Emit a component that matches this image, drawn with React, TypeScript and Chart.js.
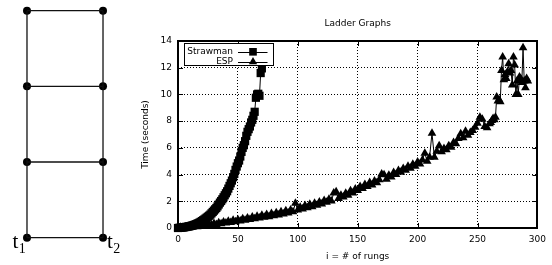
import React, { useEffect, useRef } from 'react';
import { Chart, registerables } from 'chart.js';

Chart.register(...registerables);

// ---------- data ----------
const chartTitle = 'Ladder Graphs';
const xAxisTitle = 'i = # of rungs';
const yAxisTitle = 'Time (seconds)';
const xTicks = [0, 50, 100, 150, 200, 250, 300];
const yTicks = [0, 2, 4, 6, 8, 10, 12, 14];

const strawmanLabel = 'Strawman';
const strawmanRungs = [
  0, 1, 2, 3, 4, 5, 6, 7, 8, 9, 10, 11, 12, 13, 14, 15, 16, 17, 18, 19, 20,
  21, 22, 23, 24, 25, 26, 27, 28, 29, 30, 31, 32, 33, 34, 35, 36, 37, 38, 39, 40,
  41, 42, 43, 44, 45, 46, 47, 48, 49, 50, 51, 52, 53, 54, 55, 56, 57, 58, 59, 60,
  61, 62, 63, 64, 65, 66, 67, 68, 69, 70,
];
const strawmanTimes = [
  0.0, 0.01, 0.02, 0.03, 0.04, 0.05, 0.07, 0.08, 0.1, 0.12, 0.14,
  0.16, 0.19, 0.22, 0.25, 0.28, 0.32, 0.36, 0.41, 0.46, 0.52,
  0.58, 0.64, 0.71, 0.78, 0.85, 0.92, 1.0, 1.1, 1.2, 1.3,
  1.4, 1.5, 1.62, 1.76, 1.9, 2.02, 2.15, 2.3, 2.45, 2.6,
  2.75, 2.95, 3.15, 3.35, 3.55, 3.8, 4.05, 4.35, 4.6, 4.85,
  5.05, 5.35, 5.7, 6.0, 6.2, 6.5, 6.9, 7.2, 7.4, 7.6,
  7.9, 8.1, 8.4, 8.7, 9.75, 10.0, 10.05, 9.9, 11.6, 11.95,
];

const espLabel = 'ESP';
const espRungs = [
  0, 2, 4, 6, 8, 10, 12, 14, 16, 18, 20, 22, 24, 26, 28, 30, 32, 34, 36, 38, 40,
  42, 44, 46, 48, 50, 52, 54, 56, 58, 60, 62, 64, 66, 68, 70, 72, 74, 76, 78, 80,
  82, 84, 86, 88, 90, 92, 94, 96, 98, 100, 102, 104, 106, 108, 110, 112, 114, 116, 118, 120,
  122, 124, 126, 128, 130, 132, 134, 136, 138, 140, 142, 144, 146, 148, 150, 152, 154, 156, 158, 160,
  162, 164, 166, 168, 170, 172, 174, 176, 178, 180, 182, 184, 186, 188, 190, 192, 194, 196, 198, 200,
  202, 204, 206, 208, 210, 212, 214, 216, 218, 220, 222, 224, 226, 228, 230, 232, 234, 236, 238, 240,
  242, 244, 246, 248, 250, 252, 254, 256, 258, 260,
  261, 262, 263, 264, 265, 266, 267, 268, 269, 270, 271, 272, 273, 274, 275, 276,
  277, 278, 279, 280, 281, 282, 283, 284, 285, 286, 287, 288, 289, 290, 291, 292,
];
const espTimes = [
  0.02, 0.05, 0.03, 0.08, 0.05, 0.1, 0.07, 0.14, 0.1, 0.18, 0.13, 0.22, 0.17, 0.28, 0.22, 0.33, 0.27, 0.4, 0.32, 0.45, 0.38,
  0.5, 0.42, 0.58, 0.47, 0.62, 0.52, 0.7, 0.58, 0.75, 0.64, 0.82, 0.7, 0.88, 0.74, 0.95, 0.8, 1.02, 0.85, 1.08, 0.92,
  1.15, 0.98, 1.22, 1.05, 1.3, 1.12, 1.35, 1.22, 1.85, 1.35, 1.55, 1.42, 1.68, 1.52, 1.78, 1.6, 1.85, 1.7, 1.95, 1.8,
  2.05, 1.92, 2.15, 2.02, 2.62, 2.72, 2.2, 2.45, 2.32, 2.6, 2.45, 2.78, 2.62, 2.92, 2.8, 3.1, 2.95, 3.25, 3.1, 3.4,
  3.22, 3.52, 3.38, 3.62, 4.05, 3.98, 3.65, 3.95, 3.82, 4.15, 4.0, 4.3, 4.18, 4.45, 4.32, 4.62, 4.48, 4.78, 4.62, 4.95,
  4.8, 5.1, 5.6, 5.0, 5.3, 7.1, 5.3, 5.75, 6.15, 5.7, 5.95, 5.85, 6.15, 6.05, 6.4, 6.3, 6.7, 7.05, 6.75, 7.25,
  6.95, 7.15, 7.3, 7.55, 7.85, 8.3, 8.15, 7.6, 7.5, 7.8,
  7.9, 8.05, 8.2, 8.1, 8.3, 9.8, 9.5, 9.6, 9.45, 11.8, 12.8, 11.1, 11.5, 11.2, 11.7, 12.3,
  11.6, 11.8, 10.7, 12.8, 12.2, 10.0, 11.0, 10.0, 11.3, 11.2, 10.9, 13.5, 11.0, 10.5, 11.2, 11.0,
];

// ladder diagram: two rails (columns) and four rungs (levels)
const ladderColumns = [0, 1];
const ladderLevels = [0, 1, 2, 3];
const terminalLabels = [
  { col: 0, level: 0, base: 't', sub: '1' },
  { col: 1, level: 0, base: 't', sub: '2' },
];

// ---------- styles ----------
const FONT = 'DejaVu Sans';
const INK = '#000';

export default function App() {
  const ladderRef = useRef<HTMLCanvasElement>(null);
  const plotRef = useRef<HTMLCanvasElement>(null);

  useEffect(() => {
    const charts: Chart[] = [];

    // ----- ladder diagram -----
    if (ladderRef.current) {
      const top = ladderLevels[ladderLevels.length - 1];
      const segs: { x: number; y: number }[][] = [];
      ladderColumns.forEach((c) => segs.push([{ x: c, y: ladderLevels[0] }, { x: c, y: top }]));
      ladderLevels.forEach((l) => segs.push([{ x: ladderColumns[0], y: l }, { x: ladderColumns[1], y: l }]));
      const nodes: { x: number; y: number }[] = [];
      ladderColumns.forEach((c) => ladderLevels.forEach((l) => nodes.push({ x: c, y: l })));

      const labelPlugin = {
        id: 'terminalLabels',
        afterDatasetsDraw(chart: any) {
          const { ctx, scales } = chart;
          ctx.save();
          ctx.fillStyle = INK;
          ctx.textBaseline = 'alphabetic';
          terminalLabels.forEach((t) => {
            const px = scales.x.getPixelForValue(t.col);
            const py = scales.y.getPixelForValue(t.level);
            const left = t.col === 0 ? px - 14.5 : px + 4;
            ctx.font = '21px "Liberation Serif"';
            ctx.textAlign = 'left';
            ctx.fillText(t.base, left, py + 10.5);
            const w = ctx.measureText(t.base).width;
            ctx.font = '14px "Liberation Serif"';
            ctx.fillText(t.sub, left + w + 0.5, py + 15.5);
          });
          ctx.restore();
        },
      };

      const datasets: any[] = segs.map((s) => ({
        data: s,
        showLine: true,
        borderColor: '#111',
        borderWidth: 1.3,
        pointRadius: 0,
        clip: false,
      }));
      datasets.push({
        data: nodes,
        showLine: false,
        pointRadius: 4,
        pointBackgroundColor: INK,
        pointBorderWidth: 0,
        clip: false,
      });

      charts.push(
        new Chart(ladderRef.current, {
          type: 'scatter',
          data: { datasets },
          options: {
            responsive: false,
            animation: false,
            devicePixelRatio: 1,
            events: [],
            layout: { padding: 0, autoPadding: false },
            plugins: { legend: { display: false }, tooltip: { enabled: false }, title: { display: false } },
            scales: {
              x: { type: 'linear', display: false, min: -0.355, max: 1.355 },
              y: { type: 'linear', display: false, min: -0.361, max: 3.141 },
            },
          },
          plugins: [labelPlugin],
        } as any)
      );
    }

    // ----- timing plot -----
    if (plotRef.current) {
      const strawmanData = strawmanRungs.map((x, i) => ({ x, y: strawmanTimes[i] }));
      const espData = espRungs.map((x, i) => ({ x, y: espTimes[i] }));

      const framePlugin = {
        id: 'gnuplotFrame',
        afterDatasetsDraw(chart: any) {
          const { ctx, chartArea, scales } = chart;
          const { left: L, right: R, top: T, bottom: B } = chartArea;
          ctx.save();
          // inward tick marks (mirrored)
          ctx.strokeStyle = INK;
          ctx.lineWidth = 1;
          ctx.setLineDash([]);
          ctx.beginPath();
          xTicks.forEach((v) => {
            const x = Math.round(scales.x.getPixelForValue(v)) + 0.5;
            ctx.moveTo(x, B); ctx.lineTo(x, B - 5);
            ctx.moveTo(x, T); ctx.lineTo(x, T + 5);
          });
          yTicks.forEach((v) => {
            const y = Math.round(scales.y.getPixelForValue(v)) + 0.5;
            ctx.moveTo(L, y); ctx.lineTo(L + 5, y);
            ctx.moveTo(R, y); ctx.lineTo(R - 5, y);
          });
          ctx.stroke();
          // frame
          ctx.lineWidth = 2;
          ctx.strokeRect(Math.round(L), Math.round(T), Math.round(R - L), Math.round(B - T));

          // key box
          const bx = Math.round(L) + 6.5;
          const by = Math.round(T) + 2.5;
          const bw = 89;
          const bh = 22;
          ctx.fillStyle = '#fff';
          ctx.fillRect(bx, by, bw, bh);
          ctx.lineWidth = 1;
          ctx.strokeStyle = INK;
          ctx.strokeRect(bx, by, bw, bh);
          const entries = [
            { label: strawmanLabel, style: 'rect', r: 5.4, dy: 8.3 },
            { label: espLabel, style: 'triangle', r: 4.8, dy: 18.3 },
          ];
          ctx.font = `9px "${FONT}"`;
          ctx.textAlign = 'right';
          ctx.textBaseline = 'middle';
          entries.forEach((e) => {
            const y = by + e.dy;
            ctx.fillStyle = INK;
            ctx.fillText(e.label, L + 55, y);
            ctx.beginPath();
            ctx.moveTo(L + 60, Math.round(y) + 0.5);
            ctx.lineTo(L + 89.5, Math.round(y) + 0.5);
            ctx.stroke();
            drawMarker(ctx, e.style, e.r, L + 75, y);
          });
          ctx.restore();
        },
      };

      const common = {
        showLine: true,
        borderColor: INK,
        borderWidth: 1,
        pointBackgroundColor: INK,
        pointBorderColor: INK,
        pointBorderWidth: 0,
        clip: false,
      };

      charts.push(
        new Chart(plotRef.current, {
          type: 'scatter',
          data: {
            datasets: [
              { ...common, label: strawmanLabel, data: strawmanData, pointStyle: 'rect', pointRadius: 5.8 },
              { ...common, label: espLabel, data: espData, pointStyle: 'triangle', pointRadius: 5 },
            ],
          },
          options: {
            responsive: false,
            animation: false,
            devicePixelRatio: 1,
            events: [],
            layout: { padding: { left: 0, right: 12, top: 0, bottom: 0 }, autoPadding: false },
            plugins: {
              legend: { display: false },
              tooltip: { enabled: false },
              title: {
                display: true,
                text: chartTitle,
                fullSize: false,
                color: INK,
                font: { family: FONT, size: 9, weight: 'normal' },
                padding: { top: 18.6, bottom: 11.6 },
              },
            },
            scales: {
              x: {
                type: 'linear',
                min: xTicks[0],
                max: xTicks[xTicks.length - 1],
                afterBuildTicks: (s: any) => { s.ticks = xTicks.map((value) => ({ value })); },
                afterFit: (s: any) => { s.height = 37; },
                ticks: { color: INK, font: { family: FONT, size: 9 }, padding: 6, maxRotation: 0, autoSkip: false },
                grid: { color: INK, lineWidth: 1, drawTicks: false },
                border: { display: false, dash: [1, 2] },
                title: {
                  display: true,
                  text: xAxisTitle,
                  color: INK,
                  font: { family: FONT, size: 9 },
                  padding: { top: 0, bottom: 3 },
                },
              },
              y: {
                type: 'linear',
                min: yTicks[0],
                max: yTicks[yTicks.length - 1],
                afterBuildTicks: (s: any) => { s.ticks = yTicks.map((value) => ({ value })); },
                afterFit: (s: any) => { s.width = 48; },
                ticks: { color: INK, font: { family: FONT, size: 9 }, padding: 6 },
                grid: { color: INK, lineWidth: 1, drawTicks: false },
                border: { display: false, dash: [1, 2] },
                title: {
                  display: true,
                  text: yAxisTitle,
                  color: INK,
                  font: { family: FONT, size: 9 },
                  padding: { top: 10, bottom: 0 },
                },
              },
            },
          },
          plugins: [framePlugin],
        } as any)
      );
    }

    return () => charts.forEach((c) => c.destroy());
  }, []);

  return (
    <div style={{ position: 'fixed', left: 0, top: 0, width: 552, height: 265, background: '#fff' }}>
      <canvas
        ref={ladderRef}
        width={130}
        height={265}
        style={{ position: 'absolute', left: 0, top: 0, width: 130, height: 265 }}
      />
      <canvas
        ref={plotRef}
        width={422}
        height={265}
        style={{ position: 'absolute', left: 130, top: 0, width: 422, height: 265 }}
      />
    </div>
  );
}

function drawMarker(ctx: CanvasRenderingContext2D, style: string, r: number, x: number, y: number) {
  ctx.save();
  ctx.fillStyle = INK;
  ctx.beginPath();
  if (style === 'rect') {
    const s = Math.SQRT1_2 * r;
    ctx.rect(x - s, y - s, 2 * s, 2 * s);
  } else {
    const h = (Math.sqrt(3) / 2) * r;
    ctx.moveTo(x, y - r);
    ctx.lineTo(x + h, y + r / 2);
    ctx.lineTo(x - h, y + r / 2);
    ctx.closePath();
  }
  ctx.fill();
  ctx.restore();
}
